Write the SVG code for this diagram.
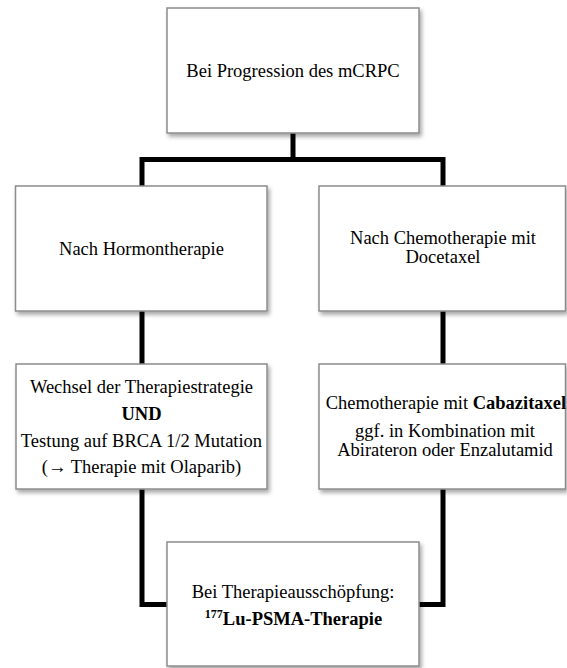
<svg xmlns="http://www.w3.org/2000/svg" width="567" height="668" viewBox="0 0 567 668">
  <style>
    .box { fill: #ffffff; stroke: #8c8c8c; stroke-width: 1.5; filter: url(#shadow); }
    .conn { fill: none; stroke: #000000; stroke-width: 5; stroke-linejoin: miter; stroke-linecap: butt; }
    text { font-family: "Liberation Serif", "Times New Roman", serif; font-size: 18.5px; fill: #000000; text-anchor: middle; }
    .b { font-weight: bold; }
  </style>
  <defs>
    <filter id="shadow" x="-10%" y="-10%" width="125%" height="130%">
      <feDropShadow dx="2" dy="3" stdDeviation="2" flood-color="#000000" flood-opacity="0.35"/>
    </filter>
  </defs>
  <rect width="567" height="668" fill="#ffffff"/>
  <g id="connectors">
    <path class="conn" d="M293,133 V159.5"/>
    <path class="conn" d="M142,186 V159.5 H443 V186"/>
    <path class="conn" d="M142,311 V364"/>
    <path class="conn" d="M443,311 V364"/>
    <path class="conn" d="M142,489 V604.5 H167"/>
    <path class="conn" d="M443,489 V604.5 H419"/>
  </g>
  <g id="node-progression">
    <rect class="box" x="167" y="8" width="252" height="125"/>
    <text x="293" y="77">Bei Progression des mCRPC</text>
  </g>
  <g id="node-hormon">
    <rect class="box" x="15.5" y="186" width="251.5" height="125"/>
    <text x="141.5" y="255">Nach Hormontherapie</text>
  </g>
  <g id="node-chemo">
    <rect class="box" x="319" y="186" width="246.5" height="125"/>
    <text x="443" y="244">Nach Chemotherapie mit</text>
    <text x="443" y="263">Docetaxel</text>
  </g>
  <g id="node-wechsel">
    <rect class="box" x="16" y="364" width="251" height="125"/>
    <text x="141.5" y="393">Wechsel der Therapiestrategie</text>
    <text x="141.5" y="420" class="b">UND</text>
    <text x="141.5" y="447">Testung auf BRCA 1/2 Mutation</text>
    <text x="141.5" y="473">(→ Therapie mit Olaparib)</text>
  </g>
  <g id="node-cabazitaxel">
    <rect class="box" x="319" y="364" width="246.5" height="125"/>
    <text x="446" y="409">Chemotherapie mit <tspan class="b">Cabazitaxel</tspan></text>
    <text x="445" y="437">ggf. in Kombination mit</text>
    <text x="445" y="456">Abirateron oder Enzalutamid</text>
  </g>
  <g id="node-lupsma">
    <rect class="box" x="167" y="542" width="252" height="124"/>
    <text x="293" y="598">Bei Therapieausschöpfung:</text>
    <text x="293.5" y="625" class="b"><tspan font-size="12" dy="-7">177</tspan><tspan dy="7">Lu-PSMA-Therapie</tspan></text>
  </g>
</svg>
